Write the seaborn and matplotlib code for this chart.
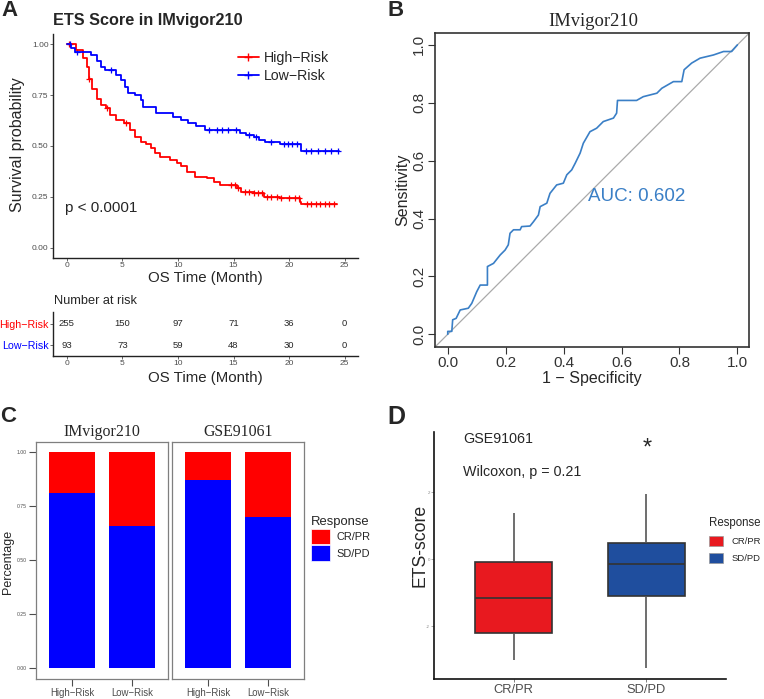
import numpy as np
import pandas as pd
import matplotlib
matplotlib.use("Agg")
import matplotlib.pyplot as plt
import seaborn as sns
from matplotlib.patches import Patch
from matplotlib.lines import Line2D

sns.set_theme(style="white")
plt.rcParams["font.family"] = ["Liberation Sans", "DejaVu Sans"]
SERIF = ["Liberation Serif", "DejaVu Serif"]

# ---------------- data ----------------
# Panel A: Kaplan-Meier step points (time in months, survival probability)
km_high_t = [0, 0.84, 1.44, 1.8, 2.0, 2.3, 2.7, 3.1, 3.5, 3.85, 4.45, 5.1, 5.7, 6.1, 6.7, 7.15,
             7.6, 7.9, 8.4, 9.3, 9.9, 10.3, 10.8, 11.5, 12.6, 13.2, 13.8, 15.3, 15.7, 16.8, 17.7,
             19.2, 21.0, 21.1, 24.3]
km_high_s = [1.0, 0.97, 0.93, 0.89, 0.83, 0.78, 0.73, 0.70, 0.685, 0.65, 0.627, 0.612, 0.58, 0.545,
             0.52, 0.508, 0.49, 0.465, 0.448, 0.43, 0.418, 0.40, 0.374, 0.35, 0.342, 0.325, 0.31,
             0.293, 0.276, 0.268, 0.252, 0.245, 0.227, 0.216, 0.216]
km_low_t = [0, 0.4, 0.7, 2.2, 2.7, 3.1, 3.4, 4.45, 4.9, 5.2, 5.5, 6.1, 6.7, 6.85, 8.05, 9.55,
            10.3, 10.9, 11.6, 12.4, 15.6, 16.1, 16.8, 17.3, 17.8, 19.2, 21.1, 24.5]
km_low_s = [1.0, 0.98, 0.964, 0.948, 0.915, 0.89, 0.872, 0.848, 0.824, 0.79, 0.76, 0.75, 0.725,
            0.693, 0.66, 0.644, 0.627, 0.611, 0.598, 0.578, 0.562, 0.554, 0.546, 0.53, 0.52, 0.51,
            0.477, 0.477]
cens_high = [0.2, 2.0, 3.6, 5.3, 14.8, 15.1, 15.4, 16.0, 16.4, 16.8, 17.2, 17.6, 18.0, 18.4, 18.9,
             19.3, 20.0, 20.5, 20.9, 21.6, 22.0, 22.4, 22.8, 23.2, 23.6, 24.0]
cens_low = [0.3, 0.9, 4.0, 12.8, 13.5, 14.0, 14.5, 15.2, 16.4, 17.0, 18.4, 19.5, 19.9, 20.3, 20.7,
            21.5, 22.0, 22.6, 23.2, 23.8, 24.4]
risk_times = [0, 5, 10, 15, 20, 25]
risk_high = [255, 150, 97, 71, 36, 0]
risk_low = [93, 73, 59, 48, 30, 0]
groups = ["High\u2212Risk", "Low\u2212Risk"]

# Panel B: ROC curve
roc_fpr = [0, 0, 0.014, 0.017, 0.029, 0.043, 0.071, 0.083, 0.10, 0.112, 0.137, 0.137, 0.158, 0.181,
           0.198, 0.209, 0.215, 0.227, 0.25, 0.255, 0.284, 0.296, 0.313, 0.319, 0.342, 0.353, 0.376,
           0.399, 0.411, 0.428, 0.44, 0.457, 0.468, 0.491, 0.514, 0.537, 0.572, 0.583, 0.586, 0.652,
           0.675, 0.722, 0.739, 0.779, 0.808, 0.816, 0.842, 0.871, 0.917, 0.952, 0.98, 1.0]
roc_tpr = [0, 0.01, 0.01, 0.05, 0.055, 0.084, 0.09, 0.107, 0.147, 0.17, 0.17, 0.234, 0.245, 0.274,
           0.291, 0.309, 0.349, 0.361, 0.361, 0.372, 0.374, 0.389, 0.412, 0.441, 0.453, 0.487, 0.516,
           0.522, 0.551, 0.568, 0.591, 0.626, 0.66, 0.70, 0.712, 0.735, 0.747, 0.764, 0.808, 0.808,
           0.821, 0.833, 0.85, 0.873, 0.873, 0.914, 0.937, 0.954, 0.965, 0.977, 0.977, 1.0]
auc_label = "AUC: 0.602"

# Panel C: response proportions
cohorts = ["IMvigor210", "GSE91061"]
risk_cats = ["High\u2212Risk", "Low\u2212Risk"]
sdpd_frac = {"IMvigor210": [0.811, 0.660], "GSE91061": [0.872, 0.701]}
crpr_frac = {"IMvigor210": [0.189, 0.340], "GSE91061": [0.128, 0.299]}

# Panel D: ETS-score five-number summaries (min, Q1, median, Q3, max)
resp_cats = ["CR/PR", "SD/PD"]
ets_crpr = [-2.99, -2.19, -1.15, -0.08, 1.39]
ets_sdpd = [-3.24, -1.10, -0.14, 0.50, 1.94]

RED, BLUE = "#FF0000", "#0000FF"
W, H = 764, 699


def box(l, t, r, b):
    return [l / W, (H - b) / H, (r - l) / W, (b - t) / H]


fig = plt.figure(figsize=(W / 100, H / 100), dpi=100)


def ftxt(x, y, s, **kw):
    kw.setdefault("va", "center")
    kw.setdefault("ha", "center")
    fig.text(x / W, 1 - y / H, s, **kw)


# ---------------- Panel A ----------------
axA = fig.add_axes(box(53, 34, 358, 258))
sns.lineplot(x=km_high_t, y=km_high_s, drawstyle="steps-post", color=RED, lw=1.3,
             estimator=None, ax=axA)
sns.lineplot(x=km_low_t, y=km_low_s, drawstyle="steps-post", color=BLUE, lw=1.3,
             estimator=None, ax=axA)


def step_val(t_arr, s_arr, t):
    i = np.searchsorted(np.asarray(t_arr), t, side="right") - 1
    return np.asarray(s_arr)[i]


sns.scatterplot(x=cens_high, y=[step_val(km_high_t, km_high_s, t) for t in cens_high],
                marker="+", s=22, color=RED, linewidth=0.9, ax=axA)
sns.scatterplot(x=cens_low, y=[step_val(km_low_t, km_low_s, t) for t in cens_low],
                marker="+", s=22, color=BLUE, linewidth=0.9, ax=axA)
axA.set_xlim(-1.25, 26.2)
axA.set_ylim(-0.05, 1.05)
axA.set_xticks(risk_times)
axA.set_yticks([0, 0.25, 0.5, 0.75, 1.0])
axA.set_yticklabels(["0.00", "0.25", "0.50", "0.75", "1.00"])
axA.tick_params(labelsize=6, colors="#4D4D4D", length=2.2, width=0.6, bottom=True, left=True, pad=1)
for sp in ["top", "right"]:
    axA.spines[sp].set_visible(False)
for sp in ["left", "bottom"]:
    axA.spines[sp].set_color("#222222")
    axA.spines[sp].set_linewidth(1.0)
axA.set_xlabel("")
axA.set_ylabel("")
hA = [Line2D([], [], color=RED, marker="+", lw=1.3, ms=6),
      Line2D([], [], color=BLUE, marker="+", lw=1.3, ms=6)]
axA.legend(hA, groups, loc="upper left", bbox_to_anchor=((238 - 53) / 305, (258 - 51) / 224),
           frameon=False, fontsize=10.2, handlelength=1.45, borderaxespad=0, borderpad=0,
           handletextpad=0.4, labelspacing=0.25)
axA.text(-0.18, 0.196, "p < 0.0001", fontsize=11, ha="left", va="center")
ftxt(148, 21, "ETS Score in IMvigor210", fontsize=11.7, fontweight="bold")
ftxt(205, 278, "OS Time (Month)", fontsize=10.8)
ftxt(18, 145, "Survival probability", fontsize=11.5, rotation=90)

# risk table
axR = fig.add_axes(box(53, 312, 358, 356))
axR.set_xlim(-1.25, 26.2)
axR.set_ylim(-0.52, 1.57)
for t, nh, nl in zip(risk_times, risk_high, risk_low):
    axR.text(t, 1, str(nh), fontsize=6.8, ha="center", va="center")
    axR.text(t, 0, str(nl), fontsize=6.8, ha="center", va="center")
axR.set_xticks(risk_times)
axR.set_yticks([1, 0])
axR.set_yticklabels(groups)
for lab, c in zip(axR.get_yticklabels(), [RED, BLUE]):
    lab.set_color(c)
    lab.set_fontsize(7.7)
axR.tick_params(axis="x", labelsize=6, colors="#4D4D4D", length=2.2, width=0.6, bottom=True, pad=1)
axR.tick_params(axis="y", length=2, width=0.6, left=True, pad=1, color="#4D4D4D")
for sp in ["top", "right"]:
    axR.spines[sp].set_visible(False)
for sp in ["left", "bottom"]:
    axR.spines[sp].set_color("#222222")
    axR.spines[sp].set_linewidth(1.0)
ftxt(54, 301, "Number at risk", fontsize=9.2, ha="left")
ftxt(205, 378, "OS Time (Month)", fontsize=10.8)

# ---------------- Panel B ----------------
axB = fig.add_axes(box(435, 33, 749, 347))
axB.axline((0, 0), (1, 1), color="#AAAAAA", lw=0.9)
sns.lineplot(x=roc_fpr, y=roc_tpr, sort=False, estimator=None, color="#3A7FC6", lw=1.2, ax=axB)
axB.set_xlim(-0.044, 1.04)
axB.set_ylim(-0.044, 1.041)
axB.set_xticks(np.linspace(0, 1, 6))
axB.set_yticks(np.linspace(0, 1, 6))
axB.set_xticklabels(["0.0", "0.2", "0.4", "0.6", "0.8", "1.0"])
axB.set_yticklabels(["0.0", "0.2", "0.4", "0.6", "0.8", "1.0"])
axB.tick_params(labelsize=11, colors="#333333", length=5, width=0.8, bottom=True, left=True, pad=1.5)
plt.setp(axB.get_yticklabels(), rotation=90, va="center")
for sp in axB.spines.values():
    sp.set_color("#333333")
    sp.set_linewidth(1.2)
axB.text(0.484, 0.475, auc_label, color="#3A7FC6", fontsize=13.5, ha="left", va="center")
axB.set_xlabel("")
axB.set_ylabel("")
ftxt(593, 22, "IMvigor210", fontsize=13.3, family=SERIF)
ftxt(592, 378, "1 \u2212 Specificity", fontsize=11.5)
ftxt(403, 190, "Sensitivity", fontsize=11.5, rotation=90)

# ---------------- Panel C ----------------
c_boxes = [(36, 168), (172, 304)]
for k, (coh, (l, r)) in enumerate(zip(cohorts, c_boxes)):
    ax = fig.add_axes(box(l, 441.7, r, 679))
    totals = [a + b for a, b in zip(sdpd_frac[coh], crpr_frac[coh])]
    sns.barplot(x=risk_cats, y=totals, color=RED, width=0.77, linewidth=0, errorbar=None,
                saturation=1, ax=ax)
    sns.barplot(x=risk_cats, y=sdpd_frac[coh], color=BLUE, width=0.77, linewidth=0, errorbar=None,
                saturation=1, ax=ax)
    ax.set_xlim(-0.6, 1.6)
    ax.set_ylim(-0.05, 1.05)
    ax.set_yticks([0, 0.25, 0.5, 0.75, 1.0])
    ax.set_xlabel("")
    ax.set_ylabel("")
    for sp in ax.spines.values():
        sp.set_visible(True)
        sp.set_color("#7F7F7F")
        sp.set_linewidth(0.9)
    ax.tick_params(axis="x", labelsize=6.9, colors="#4D4D4D", length=5, width=0.8,
                   bottom=True, pad=1.5)
    if k == 0:
        ax.set_yticklabels(["0.00", "0.25", "0.50", "0.75", "1.00"])
        ax.tick_params(axis="y", labelsize=3.7, colors="#4D4D4D", length=5, width=0.8,
                       left=True, pad=1.5)
    else:
        ax.set_yticklabels([])
        ax.tick_params(axis="y", left=False)
    ftxt((l + r) / 2, 432, coh, fontsize=11.4, family=SERIF)
ftxt(8, 562, "Percentage", fontsize=9, rotation=90)
hC = [Patch(facecolor=RED, edgecolor="white", lw=0.5), Patch(facecolor=BLUE, edgecolor="white", lw=0.5)]
legC = fig.legend(hC, ["CR/PR", "SD/PD"], loc="upper left", bbox_to_anchor=(311 / W, 1 - 516 / H),
                  frameon=False, fontsize=7.9, title="Response", title_fontsize=9.4,
                  handlelength=1.75, handleheight=1.75, labelspacing=0.1, borderpad=0,
                  borderaxespad=0, handletextpad=0.6, alignment="left")

# ---------------- Panel D ----------------
axD = fig.add_axes(box(434.3, 431.7, 725.7, 678.7))
dfD = pd.DataFrame({"Response": [resp_cats[0]] * len(ets_crpr) + [resp_cats[1]] * len(ets_sdpd),
                    "score": ets_crpr + ets_sdpd})
sns.boxplot(data=dfD, x="Response", y="score", hue="Response", order=resp_cats,
            palette={"CR/PR": "#E8191F", "SD/PD": "#1F4E9E"}, width=0.58, linecolor="#333333",
            linewidth=1.2, showcaps=False, legend=False, saturation=1,
            whiskerprops=dict(color="#555555"), ax=axD)
axD.set_xlim(-0.6, 1.6)
axD.set_ylim(-3.56, 3.81)
axD.set_yticks([-2, 0, 2])
axD.set_yticklabels(["-2", "0", "2"])
axD.tick_params(axis="y", labelsize=3.2, colors="#888888", length=2, width=0.5, left=True, pad=1)
axD.tick_params(axis="x", labelsize=9.3, colors="#4D4D4D", length=2, width=0.5, bottom=True, pad=2)
for sp in ["top", "right"]:
    axD.spines[sp].set_visible(False)
for sp in ["left", "bottom"]:
    axD.spines[sp].set_color("#111111")
    axD.spines[sp].set_linewidth(1.2)
axD.set_xlabel("")
axD.set_ylabel("")
ftxt(463, 439, "GSE91061", fontsize=10.3, ha="left")
ftxt(463, 472, "Wilcoxon, p = 0.21", fontsize=10.3, ha="left")
ftxt(647, 449, "*", fontsize=17)
ftxt(420, 545, "ETS-score", fontsize=12.7, rotation=90)
hD = [Patch(facecolor="#E8191F", edgecolor="#999999", lw=0.5),
      Patch(facecolor="#1F4E9E", edgecolor="#999999", lw=0.5)]
fig.legend(hD, resp_cats, loc="upper left", bbox_to_anchor=(709 / W, 1 - 517 / H),
           frameon=False, fontsize=6.8, title="Response", title_fontsize=8.3,
           handlelength=1.5, handleheight=1.2, labelspacing=0.75, borderpad=0,
           borderaxespad=0, handletextpad=0.9, alignment="left")

# panel letters
ftxt(9, 11, "A", fontsize=16, fontweight="bold")
ftxt(396, 11, "B", fontsize=16, fontweight="bold")
ftxt(8, 416, "C", fontsize=16, fontweight="bold")
ftxt(396, 417, "D", fontsize=18, fontweight="bold")

fig.savefig("out.png", dpi=100)
